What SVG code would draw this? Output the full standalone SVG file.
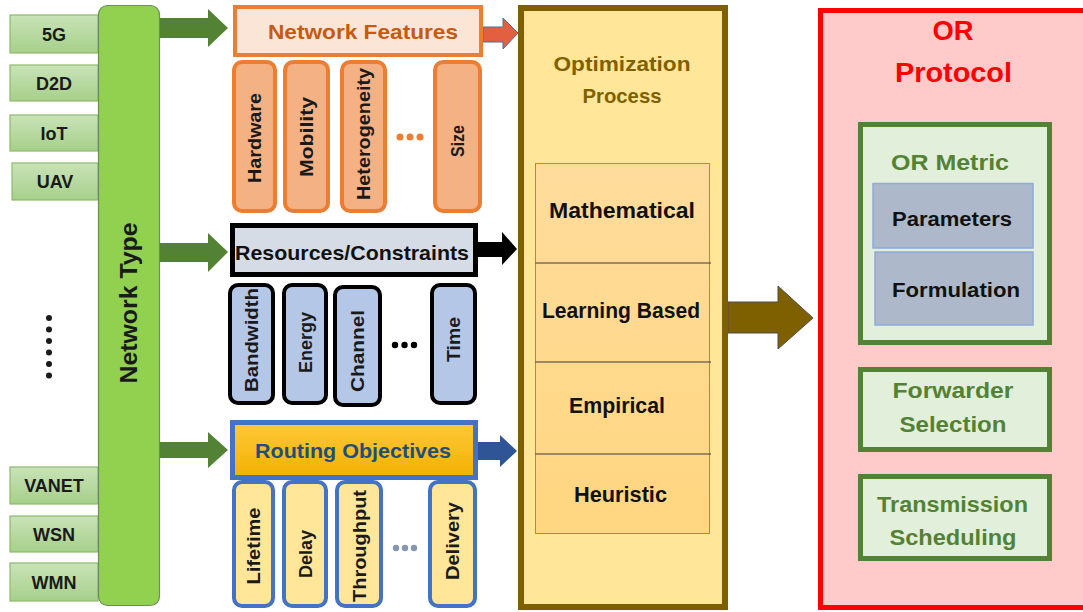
<svg xmlns="http://www.w3.org/2000/svg" width="1083" height="612" viewBox="0 0 1083 612">
<defs>
<linearGradient id="gLeft" x1="0" y1="0" x2="0" y2="1"><stop offset="0" stop-color="#c9e3b8"/><stop offset="1" stop-color="#a6d08a"/></linearGradient>
<linearGradient id="gRout" x1="0" y1="0" x2="0" y2="1"><stop offset="0" stop-color="#ffc93a"/><stop offset="1" stop-color="#f2b000"/></linearGradient>
<linearGradient id="gOpt" x1="0" y1="0" x2="0" y2="1"><stop offset="0" stop-color="#ffdc9c"/><stop offset="1" stop-color="#ffd680"/></linearGradient>
<style>
.t{font-family:"Liberation Sans",Arial,sans-serif;font-weight:bold;text-anchor:middle;}
.lb{fill:url(#gLeft);stroke:#8dbb6c;stroke-width:1.2;}
.lt{font-size:18px;fill:#1a1a1a;}
.ob{fill:#f4b183;stroke:#ed7d31;stroke-width:4;}
.bb{fill:#b4c7e7;stroke:#000;stroke-width:4;}
.yb{fill:#ffe699;stroke:#4472c4;stroke-width:4;}
.vt{font-size:19px;fill:#1a1a1a;}
.opt{font-size:22px;fill:#111;}
.gb{fill:#e2efda;stroke:#548235;stroke-width:5;}
.gt{font-size:22px;fill:#548235;}
.pb{fill:#adb9ca;stroke:#8faadc;stroke-width:1.5;}
</style>
</defs>
<rect width="1083" height="612" fill="#ffffff"/>

<g id="net-5g"><rect class="lb" x="10" y="15" width="88" height="38"/><text class="t lt" x="54" y="40.5">5G</text></g>
<g id="net-d2d"><rect class="lb" x="10" y="65" width="88" height="36"/><text class="t lt" x="54" y="89.5">D2D</text></g>
<g id="net-iot"><rect class="lb" x="10" y="115" width="88" height="36"/><text class="t lt" x="54" y="139.5">IoT</text></g>
<g id="net-uav"><rect class="lb" x="12" y="163" width="86" height="37"/><text class="t lt" x="55" y="188">UAV</text></g>
<g id="net-vanet"><rect class="lb" x="10" y="467" width="88" height="37"/><text class="t lt" x="54" y="492">VANET</text></g>
<g id="net-wsn"><rect class="lb" x="10" y="516" width="88" height="36"/><text class="t lt" x="54" y="540.5">WSN</text></g>
<g id="net-wmn"><rect class="lb" x="10" y="563" width="88" height="38"/><text class="t lt" x="54" y="588.5">WMN</text></g>
<g id="net-dots" fill="#1a1a1a">
<circle cx="49" cy="318" r="3"/><circle cx="49" cy="329.5" r="3"/><circle cx="49" cy="341" r="3"/><circle cx="49" cy="352.5" r="3"/><circle cx="49" cy="364" r="3"/><circle cx="49" cy="375.5" r="3"/>
</g>

<g id="network-type">
<rect x="98.5" y="5.5" width="61" height="600" rx="9" fill="#92d050" stroke="#6b8f5a" stroke-width="1.2"/>
<text class="t" font-size="23" fill="#1a1a1a" x="129" y="311.3" textLength="161" lengthAdjust="spacingAndGlyphs" transform="rotate(-90 129 303)">Network Type</text>
</g>

<g id="connectors">
<polygon points="160,18 208,18 208,9 228,28 208,47 208,38 160,38" fill="#548235"/>
<polygon points="160,243 208,243 208,233 228,252 208,272 208,262 160,262" fill="#548235"/>
<polygon points="160,442 208,442 208,432 228,450 208,468 208,458 160,458" fill="#548235"/>
<polygon points="483,27 503,27 503,18 518,33 503,49 503,42 483,42" fill="#e2603f" stroke="#4a6e9a" stroke-width="1"/>
<polygon points="478,242 502,242 502,232 517,249 502,265 502,257 478,257" fill="#000"/>
<polygon points="478,442 500,442 500,435 517,451 500,467 500,460 478,460" fill="#2f5597"/>
<polygon points="728,302 778,302 778,286 813,318 778,349 778,333 728,333" fill="#7f6000" stroke="#4d4d4d" stroke-width="1"/>
</g>

<g id="network-features">
<rect x="235" y="7" width="246" height="48" fill="#fbe5d6" stroke="#ed7d31" stroke-width="4"/>
<text class="t" font-size="21" fill="#c55a11" x="363" y="38.6" textLength="190" lengthAdjust="spacingAndGlyphs">Network Features</text>
</g>
<g id="nf-hardware"><rect class="ob" x="234" y="62" width="41" height="149" rx="8"/><text class="t vt" x="254.5" y="144.8" textLength="90" lengthAdjust="spacingAndGlyphs" transform="rotate(-90 254.5 138)">Hardware</text></g>
<g id="nf-mobility"><rect class="ob" x="285" y="62" width="43" height="149" rx="8"/><text class="t vt" x="306.5" y="143.8" textLength="80" lengthAdjust="spacingAndGlyphs" transform="rotate(-90 306.5 137)">Mobility</text></g>
<g id="nf-heterogeneity"><rect class="ob" x="342" y="62" width="43" height="149" rx="8"/><text class="t vt" x="363.5" y="140.8" textLength="132" lengthAdjust="spacingAndGlyphs" transform="rotate(-90 363.5 134)">Heterogeneity</text></g>
<g id="nf-dots" fill="#ed7d31"><circle cx="400" cy="137" r="3.5"/><circle cx="410" cy="137" r="3.5"/><circle cx="420" cy="137" r="3.5"/></g>
<g id="nf-size"><rect class="ob" x="435" y="62" width="45" height="149" rx="8"/><text class="t vt" x="457.5" y="147.8" textLength="32" lengthAdjust="spacingAndGlyphs" transform="rotate(-90 457.5 141)">Size</text></g>

<g id="resources">
<rect x="232.5" y="225.5" width="243" height="49" fill="#d6dce5" stroke="#000" stroke-width="5"/>
<text class="t" font-size="21" fill="#111" x="352" y="259.6" textLength="234" lengthAdjust="spacingAndGlyphs">Resources/Constraints</text>
</g>
<g id="rc-bandwidth"><rect class="bb" x="230" y="285" width="43" height="118" rx="8"/><text class="t vt" x="251.5" y="346.8" textLength="104" lengthAdjust="spacingAndGlyphs" transform="rotate(-90 251.5 340)">Bandwidth</text></g>
<g id="rc-energy"><rect class="bb" x="284" y="285" width="42" height="118" rx="8"/><text class="t vt" x="305" y="349.3" textLength="61" lengthAdjust="spacingAndGlyphs" transform="rotate(-90 305 342.5)">Energy</text></g>
<g id="rc-channel"><rect class="bb" x="335" y="287" width="45" height="118" rx="8"/><text class="t vt" x="357.5" y="357.8" textLength="82" lengthAdjust="spacingAndGlyphs" transform="rotate(-90 357.5 351)">Channel</text></g>
<g id="rc-dots" fill="#000"><circle cx="395" cy="345" r="3.2"/><circle cx="404.5" cy="345" r="3.2"/><circle cx="414" cy="345" r="3.2"/></g>
<g id="rc-time"><rect class="bb" x="432" y="285" width="43" height="118" rx="8"/><text class="t vt" x="453.5" y="346.3" textLength="45" lengthAdjust="spacingAndGlyphs" transform="rotate(-90 453.5 339.5)">Time</text></g>

<g id="routing">
<rect x="232.5" y="422.5" width="243" height="55" fill="url(#gRout)" stroke="#4472c4" stroke-width="5"/>
<text class="t" font-size="21" fill="#1f4e79" x="353" y="457.6" textLength="196" lengthAdjust="spacingAndGlyphs">Routing Objectives</text>
</g>
<g id="ro-lifetime"><rect class="yb" x="234" y="482" width="39" height="124" rx="8"/><text class="t vt" x="253.5" y="552.8" textLength="77" lengthAdjust="spacingAndGlyphs" transform="rotate(-90 253.5 546)">Lifetime</text></g>
<g id="ro-delay"><rect class="yb" x="284" y="482" width="42" height="124" rx="8"/><text class="t vt" x="305" y="560.8" textLength="48" lengthAdjust="spacingAndGlyphs" transform="rotate(-90 305 554)">Delay</text></g>
<g id="ro-throughput"><rect class="yb" x="337" y="482" width="44" height="124" rx="8"/><text class="t vt" x="359" y="552.8" textLength="112" lengthAdjust="spacingAndGlyphs" transform="rotate(-90 359 546)">Throughput</text></g>
<g id="ro-dots" fill="#8497b0"><circle cx="396" cy="548" r="3.2"/><circle cx="405" cy="548" r="3.2"/><circle cx="414" cy="548" r="3.2"/></g>
<g id="ro-delivery"><rect class="yb" x="430" y="482" width="45" height="124" rx="8"/><text class="t vt" x="452.5" y="547.8" textLength="78" lengthAdjust="spacingAndGlyphs" transform="rotate(-90 452.5 541)">Delivery</text></g>

<g id="optimization">
<rect x="521" y="8" width="204" height="599" fill="#ffe699" stroke="#7f6000" stroke-width="6"/>
<text class="t" font-size="21" fill="#7f6000" x="622" y="70.6" textLength="137" lengthAdjust="spacingAndGlyphs">Optimization</text>
<text class="t" font-size="21" fill="#7f6000" x="622" y="102.6" textLength="79" lengthAdjust="spacingAndGlyphs">Process</text>
</g>
<g id="opt-methods">
<rect x="535.5" y="163.5" width="174" height="370" fill="url(#gOpt)" stroke="#bf9000" stroke-width="1"/>
<line x1="535.5" y1="263" x2="711" y2="263" stroke="#3a3a3a" stroke-width="1"/>
<line x1="535.5" y1="362" x2="711" y2="362" stroke="#3a3a3a" stroke-width="1"/>
<line x1="535.5" y1="454" x2="711" y2="454" stroke="#3a3a3a" stroke-width="1"/>
</g>
<g id="opt-mathematical"><text class="t opt" x="622" y="218" textLength="146" lengthAdjust="spacingAndGlyphs">Mathematical</text></g>
<g id="opt-learning"><text class="t opt" x="621" y="318" textLength="158" lengthAdjust="spacingAndGlyphs">Learning Based</text></g>
<g id="opt-empirical"><text class="t opt" x="617" y="413" textLength="96" lengthAdjust="spacingAndGlyphs">Empirical</text></g>
<g id="opt-heuristic"><text class="t opt" x="620.5" y="502" textLength="93" lengthAdjust="spacingAndGlyphs">Heuristic</text></g>

<g id="or-protocol">
<rect x="820.5" y="10.5" width="270" height="597" fill="#ffcaca" stroke="#ff0000" stroke-width="5"/>
<text class="t" font-size="27" fill="#ff0000" x="953" y="40" textLength="41" lengthAdjust="spacingAndGlyphs">OR</text>
<text class="t" font-size="27" fill="#ff0000" x="953.5" y="82" textLength="117" lengthAdjust="spacingAndGlyphs">Protocol</text>
</g>
<g id="or-metric">
<rect class="gb" x="860.5" y="124.5" width="189" height="218"/>
<text class="t gt" x="950" y="169.5" textLength="118" lengthAdjust="spacingAndGlyphs">OR Metric</text>
</g>
<g id="or-parameters"><rect class="pb" x="873" y="183.5" width="160" height="64.5"/><text class="t" font-size="20" fill="#111" x="952" y="226" textLength="120" lengthAdjust="spacingAndGlyphs">Parameters</text></g>
<g id="or-formulation"><rect class="pb" x="875" y="252" width="158" height="73"/><text class="t" font-size="21" fill="#111" x="956" y="297" textLength="128" lengthAdjust="spacingAndGlyphs">Formulation</text></g>
<g id="or-forwarder">
<rect class="gb" x="860.5" y="369.5" width="189" height="80"/>
<text class="t gt" x="953" y="398" textLength="121" lengthAdjust="spacingAndGlyphs">Forwarder</text>
<text class="t gt" x="953" y="432" textLength="107" lengthAdjust="spacingAndGlyphs">Selection</text>
</g>
<g id="or-transmission">
<rect class="gb" x="860.5" y="476.5" width="189" height="82"/>
<text class="t gt" x="952.5" y="511.5" textLength="151" lengthAdjust="spacingAndGlyphs">Transmission</text>
<text class="t gt" x="953" y="545" textLength="127" lengthAdjust="spacingAndGlyphs">Scheduling</text>
</g>
</svg>
